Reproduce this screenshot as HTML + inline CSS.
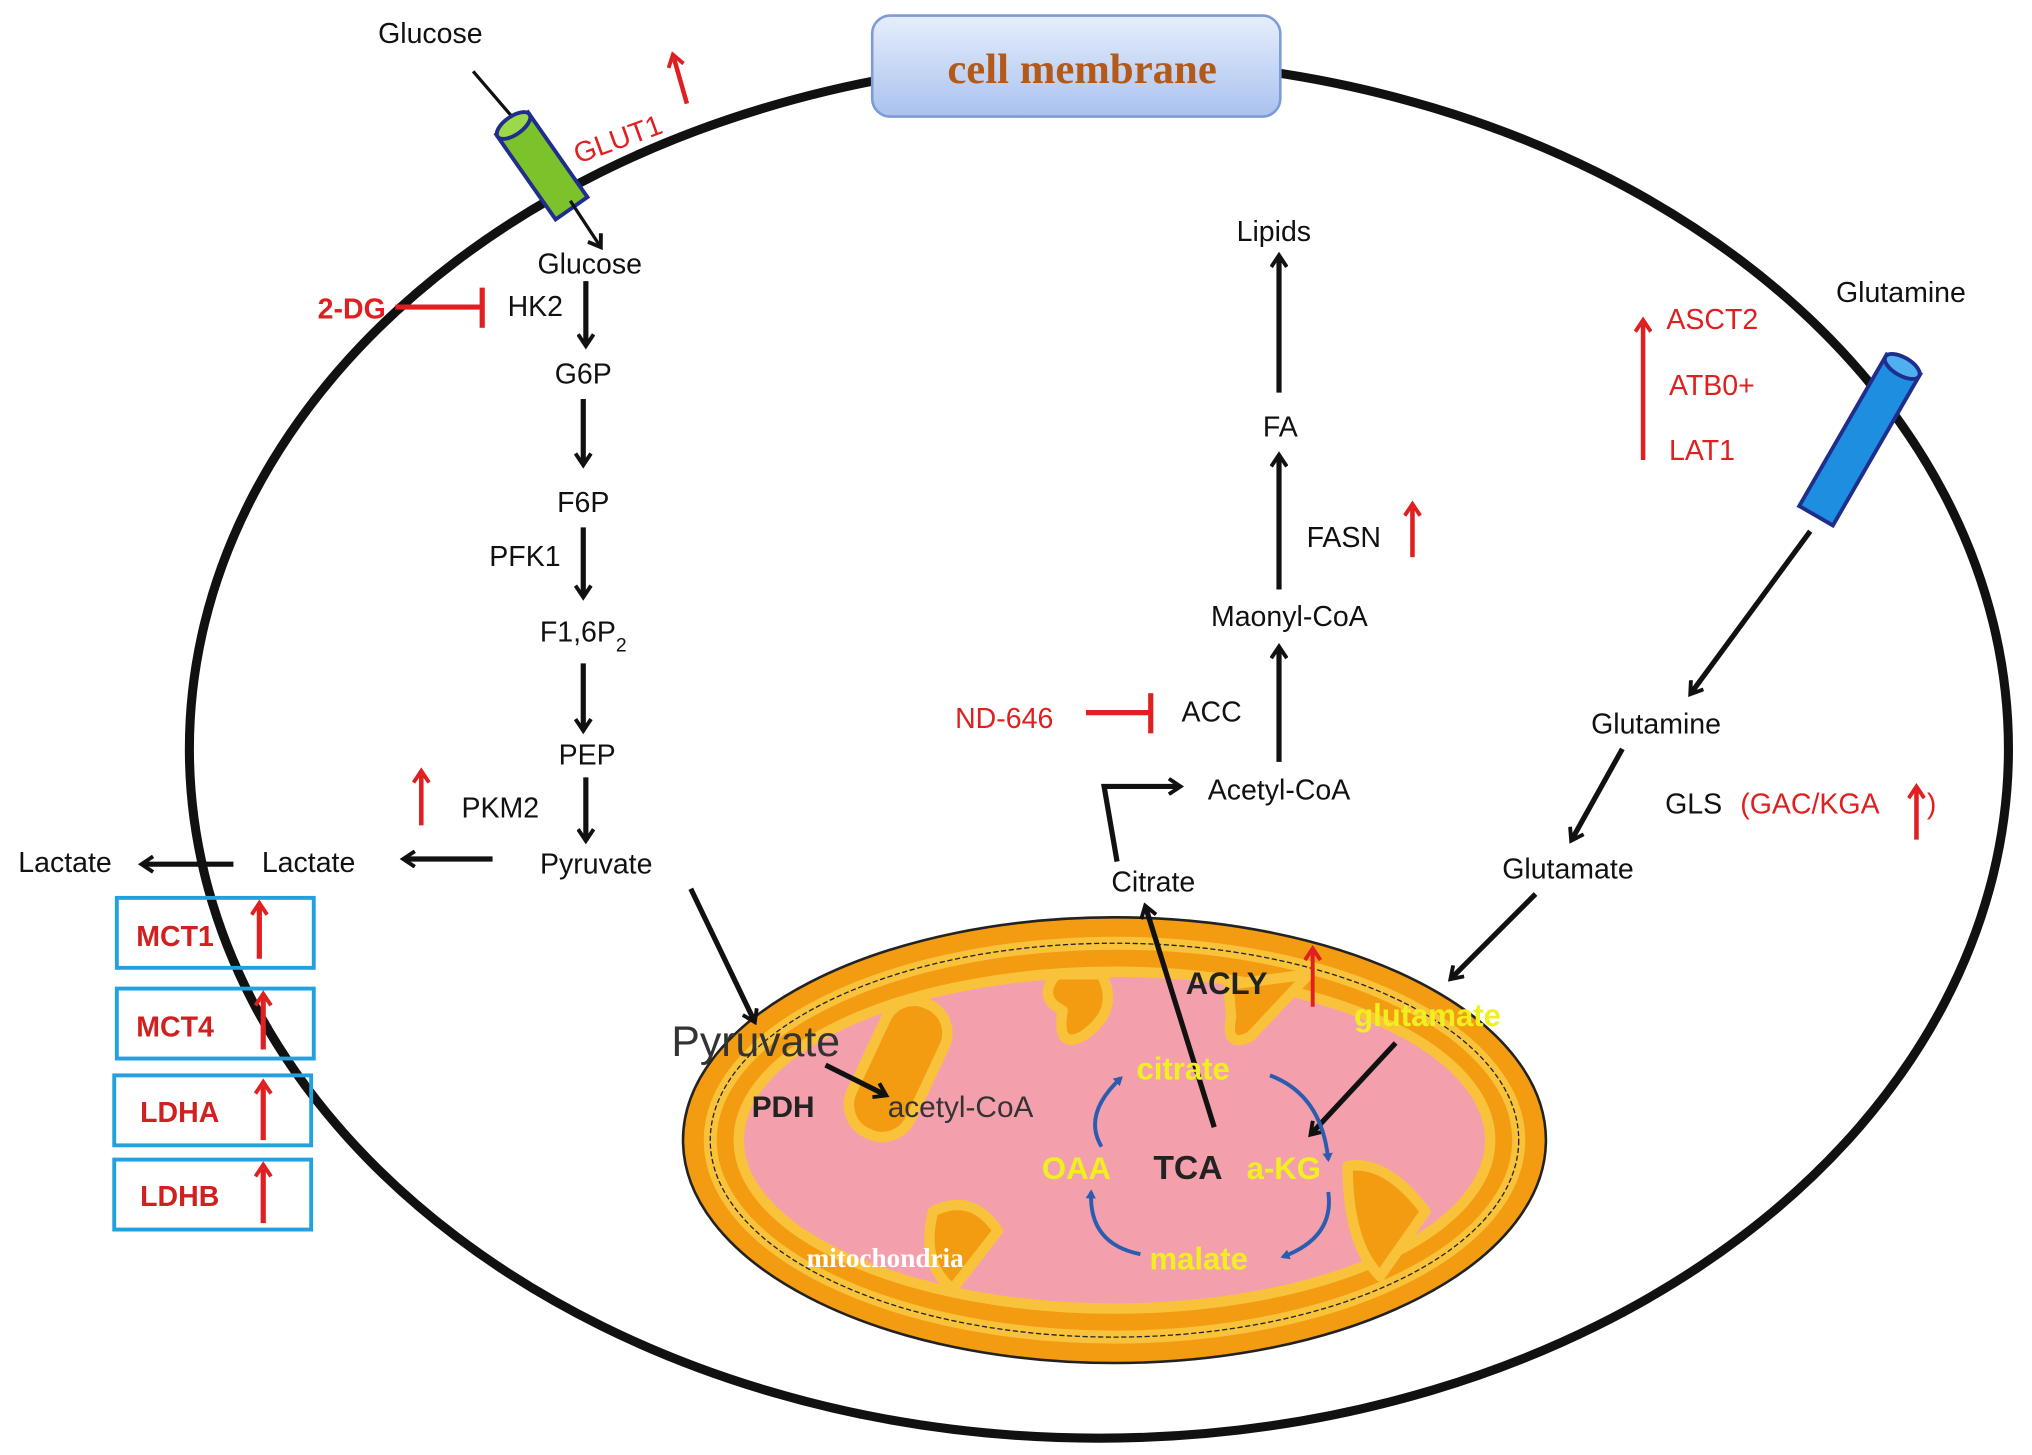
<!DOCTYPE html>
<html><head><meta charset="utf-8"><style>html,body{margin:0;padding:0;background:#fff}svg{display:block}</style></head>
<body>
<svg width="2032" height="1455" viewBox="0 0 1568 1123" xmlns="http://www.w3.org/2000/svg" font-family="Liberation Sans, Arial, sans-serif">
<defs>
<marker id="ab" markerWidth="14" markerHeight="14" refX="9" refY="7" orient="auto" markerUnits="userSpaceOnUse" viewBox="0 0 14 14"><path d="M1,1 L10,7 L1,13" fill="none" stroke="#111" stroke-width="3"/></marker>
<marker id="ar" markerWidth="14" markerHeight="14" refX="7" refY="7" orient="auto" markerUnits="userSpaceOnUse" viewBox="0 0 14 14"><path d="M1,1 L10,7 L1,13" fill="none" stroke="#e02020" stroke-width="3"/></marker>
<marker id="abl" markerWidth="8" markerHeight="8" refX="5" refY="4" orient="auto" markerUnits="userSpaceOnUse" viewBox="0 0 8 8"><path d="M0,0 L7,4 L0,8 z" fill="#2a5db0"/></marker>
<linearGradient id="mb" x1="0" y1="0" x2="0" y2="1"><stop offset="0" stop-color="#e6eefc"/><stop offset="1" stop-color="#a9c2ee"/></linearGradient>
</defs>

<ellipse cx="848" cy="578" rx="702" ry="532" fill="none" stroke="#111" stroke-width="7"/>
<rect x="673" y="12" width="315" height="78" rx="14" fill="url(#mb)" stroke="#7d9bd6" stroke-width="2"/>
<text x="835" y="64" font-family="Liberation Serif, serif" font-weight="bold" font-size="33" fill="#b35a1a" text-anchor="middle">cell membrane</text>

<!-- mitochondria -->
<ellipse cx="860" cy="880" rx="333" ry="172" fill="#f39c12" stroke="#222" stroke-width="2"/>
<ellipse cx="860" cy="880" rx="312" ry="152" fill="none" stroke="#f8c33a" stroke-width="10"/>
<ellipse cx="860" cy="880" rx="312" ry="152" fill="none" stroke="#222" stroke-width="1" stroke-dasharray="4 2"/>
<ellipse cx="860" cy="880" rx="290" ry="130" fill="#f4a0ac" stroke="#f8c33a" stroke-width="8"/>
<g fill="#f39c12" stroke="#f8c33a" stroke-width="8" stroke-linejoin="round">
<rect x="668" y="770" width="50" height="110" rx="24" transform="rotate(25 693 825)"/>
<path d="M815,752 L850,752 Q865,780 835,800 Q815,810 820,780 Q800,770 815,752 z"/>
<path d="M948,760 L1010,752 L965,800 Q945,810 950,785 z"/>
<path d="M1040,900 Q1070,895 1100,935 L1065,985 Q1040,960 1040,900 z"/>
<path d="M720,935 Q750,920 770,950 L735,995 Q710,975 720,935 z"/>
</g>

<!-- glucose channel -->
<text x="332" y="33" font-size="22" text-anchor="middle" fill="#111">Glucose</text>
<line x1="365" y1="55" x2="395" y2="90" stroke="#111" stroke-width="2.5"/>
<g transform="rotate(-35 418 128)">
<rect x="403" y="88" width="30" height="80" fill="#7cc22a" stroke="#1f2e8c" stroke-width="3"/>
<ellipse cx="418" cy="90" rx="15" ry="7" fill="#9bd94a" stroke="#1f2e8c" stroke-width="3"/>
</g>
<line x1="440" y1="155" x2="463" y2="190" stroke="#111" stroke-width="2.5" marker-end="url(#ab)"/>
<text x="440" y="117" font-size="22" fill="#e02020" transform="rotate(-20 470 105)">GLUT1</text>
<line x1="530" y1="80" x2="520" y2="45" stroke="#e02020" stroke-width="3.5" marker-end="url(#ar)"/>

<g font-size="22" fill="#111" text-anchor="middle">
<text x="455" y="211">Glucose</text>
<text x="450" y="296">G6P</text>
<text x="450" y="395">F6P</text>
<text x="450" y="495">F1,6P<tspan font-size="15" dy="8">2</tspan></text>
<text x="453" y="590">PEP</text>
<text x="460" y="674">Pyruvate</text>
<text x="413" y="244">HK2</text>
<text x="405" y="437">PFK1</text>
<text x="386" y="631">PKM2</text>
<text x="238" y="673">Lactate</text>
<text x="50" y="673">Lactate</text>
</g>
<g stroke="#111" stroke-width="4" marker-end="url(#ab)">
<line x1="452" y1="217" x2="452" y2="266"/>
<line x1="450" y1="308" x2="450" y2="358"/>
<line x1="450" y1="407" x2="450" y2="460"/>
<line x1="450" y1="512" x2="450" y2="563"/>
<line x1="452" y1="600" x2="452" y2="648"/>
<line x1="380" y1="663" x2="312" y2="663"/>
<line x1="180" y1="667" x2="110" y2="667"/>
<line x1="533" y1="686" x2="582" y2="788"/>
</g>
<text x="245" y="246" font-size="22" font-weight="bold" fill="#e02020">2-DG</text>
<line x1="305" y1="237" x2="372" y2="237" stroke="#e02020" stroke-width="4"/>
<line x1="372" y1="222" x2="372" y2="253" stroke="#e02020" stroke-width="4"/>
<line x1="325" y1="637" x2="325" y2="598" stroke="#e02020" stroke-width="3.5" marker-end="url(#ar)"/>

<g font-size="22" font-weight="bold" fill="#d02020">
<rect x="90" y="693" width="152" height="54" fill="none" stroke="#22a0e0" stroke-width="3"/><text x="105" y="730">MCT1</text>
<rect x="90" y="763" width="152" height="54" fill="none" stroke="#22a0e0" stroke-width="3"/><text x="105" y="800">MCT4</text>
<rect x="88" y="830" width="152" height="54" fill="none" stroke="#22a0e0" stroke-width="3"/><text x="108" y="866">LDHA</text>
<rect x="88" y="895" width="152" height="54" fill="none" stroke="#22a0e0" stroke-width="3"/><text x="108" y="931">LDHB</text>
</g>
<g stroke="#e02020" stroke-width="4" marker-end="url(#ar)">
<line x1="200" y1="740" x2="200" y2="700"/>
<line x1="203" y1="810" x2="203" y2="770"/>
<line x1="203" y1="880" x2="203" y2="838"/>
<line x1="203" y1="944" x2="203" y2="902"/>
</g>

<g font-size="22" fill="#111" text-anchor="middle">
<text x="983" y="186">Lipids</text>
<text x="988" y="337">FA</text>
<text x="1037" y="422">FASN</text>
<text x="995" y="483">Maonyl-CoA</text>
<text x="935" y="557">ACC</text>
<text x="987" y="617">Acetyl-CoA</text>
<text x="890" y="688">Citrate</text>
</g>
<g stroke="#111" stroke-width="4" marker-end="url(#ab)">
<line x1="987" y1="303" x2="987" y2="198"/>
<line x1="987" y1="455" x2="987" y2="352"/>
<line x1="987" y1="588" x2="987" y2="500"/>
<line x1="937" y1="870" x2="884" y2="700"/>
</g>
<path d="M862,665 L852,607 L910,607" fill="none" stroke="#111" stroke-width="4" marker-end="url(#ab)"/>
<line x1="1090" y1="430" x2="1090" y2="392" stroke="#e02020" stroke-width="3.5" marker-end="url(#ar)"/>
<text x="737" y="562" font-size="22" fill="#e02020">ND-646</text>
<line x1="838" y1="550" x2="888" y2="550" stroke="#e02020" stroke-width="4"/>
<line x1="888" y1="535" x2="888" y2="566" stroke="#e02020" stroke-width="4"/>

<text x="1467" y="233" font-size="22" fill="#111" text-anchor="middle">Glutamine</text>
<g transform="rotate(30 1435 340)">
<rect x="1420" y="272" width="30" height="135" fill="#1e8fe0" stroke="#1f2e8c" stroke-width="3"/>
<ellipse cx="1435" cy="274" rx="15" ry="7" fill="#4fb0f0" stroke="#1f2e8c" stroke-width="3"/>
</g>
<g font-size="22" fill="#e02020">
<text x="1286" y="254">ASCT2</text>
<text x="1288" y="305">ATB0+</text>
<text x="1288" y="355">LAT1</text>
</g>
<line x1="1268" y1="355" x2="1268" y2="250" stroke="#e02020" stroke-width="3.5" marker-end="url(#ar)"/>
<g font-size="22" fill="#111" text-anchor="middle">
<text x="1278" y="566">Glutamine</text>
<text x="1210" y="678">Glutamate</text>
<text x="1307" y="628">GLS</text>
</g>
<text x="1343" y="628" font-size="22" fill="#e02020">(GAC/KGA</text>
<text x="1487" y="628" font-size="22" fill="#e02020">)</text>
<line x1="1479" y1="648" x2="1479" y2="610" stroke="#e02020" stroke-width="3.5" marker-end="url(#ar)"/>
<g stroke="#111" stroke-width="4" marker-end="url(#ab)">
<line x1="1397" y1="410" x2="1305" y2="535"/>
<line x1="1252" y1="578" x2="1213" y2="648"/>
<line x1="1185" y1="690" x2="1120" y2="755"/>
<line x1="1077" y1="805" x2="1012" y2="875"/>
<line x1="637" y1="822" x2="683" y2="845"/>
</g>

<text x="518" y="815" font-size="33" fill="#333">Pyruvate</text>
<text x="580" y="862" font-size="23" font-weight="bold" fill="#222">PDH</text>
<text x="685" y="862" font-size="23" fill="#333">acetyl-CoA</text>
<text x="683" y="978" font-size="21" fill="#fff" font-family="Liberation Serif, serif" font-weight="bold" text-anchor="middle">mitochondria</text>
<text x="915" y="767" font-size="24" font-weight="bold" fill="#222">ACLY</text>
<line x1="1013" y1="777" x2="1013" y2="735" stroke="#e02020" stroke-width="3" marker-end="url(#ar)"/>
<g font-size="24" font-weight="bold" fill="#f0f020">
<text x="1045" y="792">glutamate</text>
<text x="877" y="833">citrate</text>
<text x="804" y="910">OAA</text>
<text x="962" y="910">a-KG</text>
<text x="887" y="980">malate</text>
</g>
<text x="890" y="910" font-size="26" font-weight="bold" fill="#222">TCA</text>
<g fill="none" stroke="#2a5db0" stroke-width="3" marker-end="url(#abl)">
<path d="M850,885 Q835,860 865,832"/>
<path d="M980,830 Q1020,845 1025,895"/>
<path d="M1025,920 Q1030,955 990,970"/>
<path d="M880,968 Q840,960 842,920"/>
</g>
</svg>
</body></html>
